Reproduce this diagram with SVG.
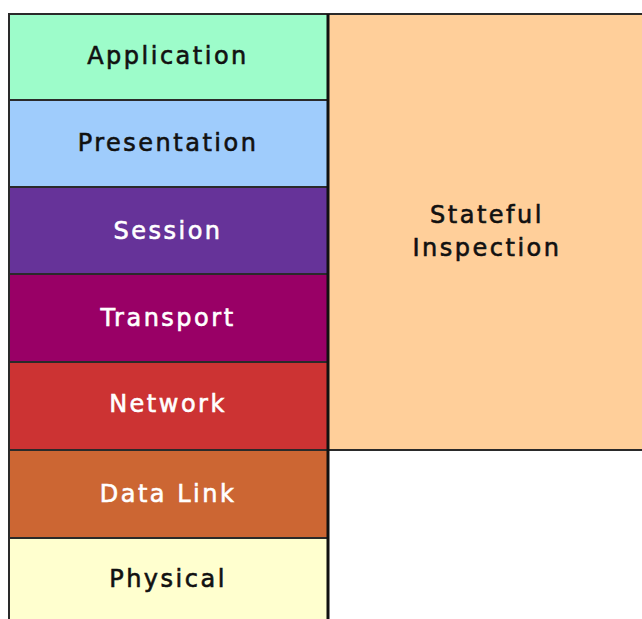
<svg xmlns="http://www.w3.org/2000/svg" width="642" height="619" viewBox="0 0 642 619">
<style>
.box{stroke:#2a2a2a;stroke-width:2}
.t{font-family:"DejaVu Sans","Liberation Sans",sans-serif;font-size:24px;letter-spacing:2.5px;text-anchor:middle;dominant-baseline:central;stroke-width:0.6}
.d{fill:#111;stroke:#111}
.w{fill:#fff;stroke:#fff}
</style>
<rect width="642" height="619" fill="#fff"/>
<g id="stateful-inspection">
<rect class="box" x="328" y="14" width="316" height="436" fill="#ffcf9a"/>
<text class="t d" x="487" y="215">Stateful</text>
<text class="t d" x="487" y="248">Inspection</text>
</g>
<g id="application"><rect class="box" x="9" y="14" width="319" height="86" fill="#9dfcca"/><text class="t d" x="168" y="56">Application</text></g>
<g id="presentation"><rect class="box" x="9" y="100" width="319" height="87" fill="#9fccfc"/><text class="t d" x="168" y="143">Presentation</text></g>
<g id="session"><rect class="box" x="9" y="187" width="319" height="87" fill="#663399"/><text class="t w" x="168" y="231">Session</text></g>
<g id="transport"><rect class="box" x="9" y="274" width="319" height="88" fill="#990066"/><text class="t w" x="168" y="318">Transport</text></g>
<g id="network"><rect class="box" x="9" y="362" width="319" height="88" fill="#cc3333"/><text class="t w" x="168" y="404">Network</text></g>
<g id="data-link"><rect class="box" x="9" y="450" width="319" height="88" fill="#cc6633"/><text class="t w" x="168" y="494">Data Link</text></g>
<g id="physical"><rect class="box" x="9" y="538" width="319" height="84" fill="#ffffcf"/><text class="t d" x="168" y="579">Physical</text></g>
<g id="connectors">
<line x1="328" y1="14" x2="328" y2="619" stroke="#111" stroke-width="3"/>
</g>
</svg>
